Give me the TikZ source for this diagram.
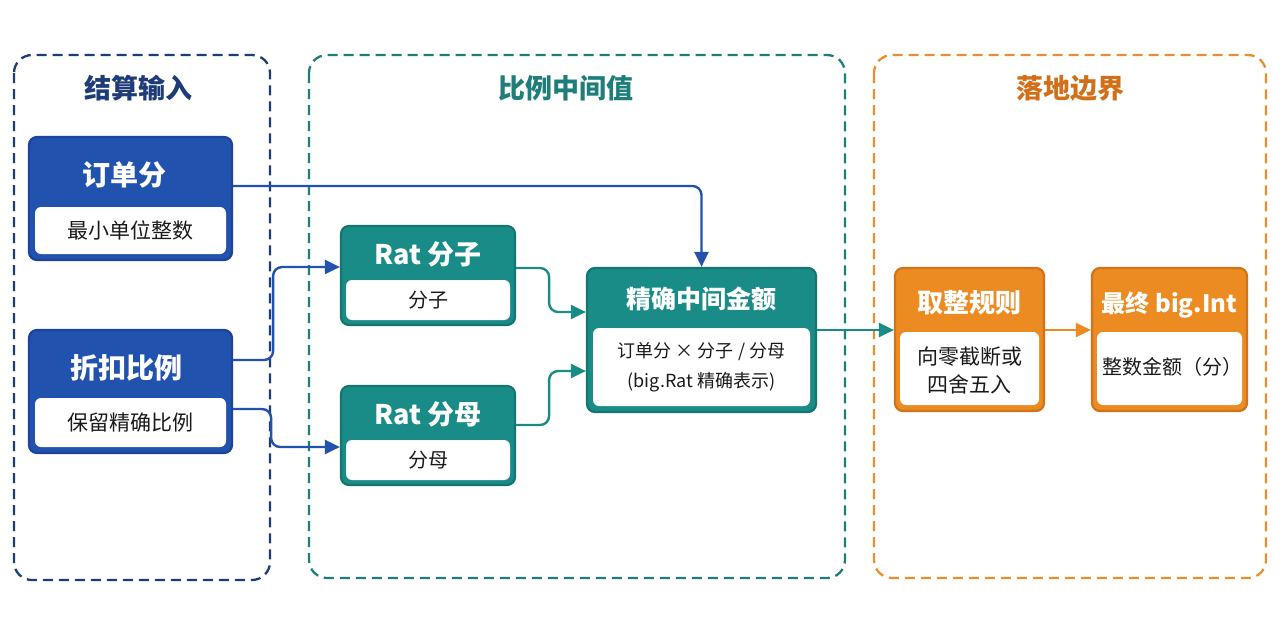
\documentclass[tikz,border=0pt]{standalone}
\usepackage{fontspec}
\setmainfont{Noto Sans CJK SC}
\usetikzlibrary{arrows.meta}
\definecolor{navy}{HTML}{1E3C78}
\definecolor{gteal}{HTML}{1F7D7A}
\definecolor{gorange}{HTML}{E8902E}
\definecolor{torange}{HTML}{D2701A}
\definecolor{bfill}{HTML}{2152AE}
\definecolor{bline}{HTML}{1B449A}
\definecolor{tfill}{HTML}{1A8C87}
\definecolor{tline}{HTML}{157570}
\definecolor{ofill}{HTML}{EC8B22}
\definecolor{oline}{HTML}{D0731A}
\definecolor{txt}{HTML}{1A1A1A}
\tikzset{
  grp/.style={draw=#1, line width=2.3pt, dash pattern=on 10pt off 6pt, rounded corners=18pt},
  gtitle/.style={font=\fontsize{27}{30}\selectfont\bfseries, text=#1, inner sep=0pt},
  card/.style={draw=#1, line width=2.2pt, rounded corners=8pt, inner sep=0pt},
  inbox/.style={fill=white, rounded corners=6pt, inner sep=0pt},
  ctitle/.style={font=\fontsize{27}{30}\selectfont\bfseries, text=white, inner sep=0pt},
  ctext/.style={font=\fontsize{20}{30}\selectfont, text=txt, align=center, inner sep=0pt},
  conn/.style={draw=#1, line width=2.4pt, rounded corners=9pt, -{Triangle[length=15pt,width=14pt]}},
}
\begin{document}
\begin{tikzpicture}[x=1pt,y=-1pt]
\useasboundingbox (0,0) rectangle (1280,640);
\fill[white] (0,0) rectangle (1280,640);

% groups
\draw[grp=navy] (14,55) rectangle (270,580);
\draw[grp=gteal] (309,55) rectangle (845,578);
\draw[grp=gorange] (874,55) rectangle (1266,578);
\node[gtitle=navy] (g1t) at (138,88) {结算输入};
\node[gtitle=gteal] (g2t) at (566,88) {比例中间值};
\node[gtitle=torange] (g3t) at (1070,88) {落地边界};

% cards
\node[card=bline, fill=bfill, minimum width=203pt, minimum height=123pt] (o1) at (130.5,198.5) {};
\node[inbox, minimum width=191pt, minimum height=47pt] (o1i) at (130.5,230.5) {};
\node[ctitle, font=\fontsize{28}{30}\selectfont\bfseries] (o1t) at (124,175) {订单分};
\node[ctext, font=\fontsize{21}{30}\selectfont] (o1x) at (o1i) {最小单位整数};

\node[card=bline, fill=bfill, minimum width=203pt, minimum height=123pt] (o2) at (130.5,391.5) {};
\node[inbox, minimum width=191pt, minimum height=49pt] (o2i) at (130.5,422.5) {};
\node[ctitle, font=\fontsize{28}{30}\selectfont\bfseries] (o2t) at (126,368) {折扣比例};
\node[ctext, font=\fontsize{21}{30}\selectfont] (o2x) at (o2i) {保留精确比例};

\node[card=tline, fill=tfill, minimum width=174pt, minimum height=99pt] (rz) at (428,275.5) {};
\node[inbox, minimum width=164pt, minimum height=40pt] (rzi) at (428,300) {};
\node[ctitle] (rzt) at (428,254) {Rat 分子};
\node[ctext] (rzx) at (rzi) {分子};

\node[card=tline, fill=tfill, minimum width=174pt, minimum height=99pt] (rm) at (428,435.5) {};
\node[inbox, minimum width=164pt, minimum height=40pt] (rmi) at (428,460) {};
\node[ctitle] (rmt) at (428,414) {Rat 分母};
\node[ctext] (rmx) at (rmi) {分母};

\node[card=tline, fill=tfill, minimum width=229pt, minimum height=144pt] (ex) at (701.5,340) {};
\node[inbox, minimum width=217pt, minimum height=78pt] (exi) at (701.5,367) {};
\node[ctitle, font=\fontsize{25}{30}\selectfont\bfseries] (ext) at (701.5,299) {精确中间金额};
\node[ctext, font=\fontsize{18}{30}\selectfont] (exx) at (exi) {订单分 × 分子 / 分母\\(big.Rat 精确表示)};

\node[card=oline, fill=ofill, minimum width=149pt, minimum height=143pt] (qz) at (969.5,339.5) {};
\node[inbox, minimum width=139pt, minimum height=73pt] (qzi) at (969.5,368.5) {};
\node[ctitle, font=\fontsize{26}{30}\selectfont\bfseries] (qzt) at (969.5,303) {取整规则};
\node[ctext, font=\fontsize{21}{28}\selectfont] (qzx) at (969.5,370) {向零截断或\\四舍五入};

\node[card=oline, fill=ofill, minimum width=155pt, minimum height=143pt] (zz) at (1169.5,339.5) {};
\node[inbox, minimum width=145pt, minimum height=73pt] (zzi) at (1169.5,368.5) {};
\node[ctitle, font=\fontsize{24}{28}\selectfont\bfseries] (zzt) at (1169.5,305) {最终 big.Int};
\node[ctext, font=\fontsize{20}{30}\selectfont] (zzx) at (1172,367) {整数金额（分）};

% connectors
\draw[conn=bfill] ([yshift=12.5pt]o1.east) -| (ex.north);
\draw[conn=bfill] ([yshift=31.5pt]o2.east) -- ++(40,0) |- ([yshift=8.5pt]rz.west);
\draw[conn=bfill] ([yshift=-17.5pt]o2.east) -- ++(38,0) |- ([yshift=-11.5pt]rm.west);
\draw[conn=tfill] ([yshift=7.5pt]rz.east) -- ++(33,0) |- ([yshift=28pt]ex.west);
\draw[conn=tfill] ([yshift=10.5pt]rm.east) -- ++(33,0) |- ([yshift=-31pt]ex.west);
\draw[conn=tfill] ([yshift=10pt]ex.east) -- ([yshift=9.5pt]qz.west);
\draw[conn=ofill] ([yshift=9.5pt]qz.east) -- ([yshift=9.5pt]zz.west);
\end{tikzpicture}
\end{document}
